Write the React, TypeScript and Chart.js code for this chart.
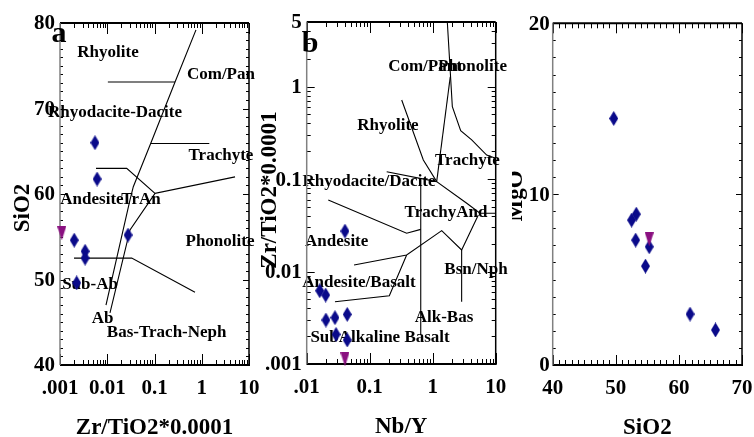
import React, { useEffect, useRef } from "react";
import { Chart, registerables } from "chart.js";
Chart.register(...registerables);

const FONT = '"Liberation Serif", "Times New Roman", serif';

// ---------------- Panel a : Zr/TiO2*0.0001 vs SiO2 ----------------
const aXTickValues = [0.001, 0.01, 0.1, 1, 10];
const aXTickLabels = [".001", "0.01", "0.1", "1", "10"];
const aYTickValues = [40, 50, 60, 70, 80];
const aYTickLabels = ["40", "50", "60", "70", "80"];
const aSampleZrTi = [0.0055, 0.0061, 0.0275, 0.002, 0.0034, 0.0034, 0.00225];
const aSampleSiO2 = [66.0, 61.75, 55.2, 54.6, 53.3, 52.5, 49.6];
const aRefZrTi = [0.00109];
const aRefSiO2 = [55.4];
const aFieldLines: number[][][] = [
  [[0.755, 79.2], [0.272, 73.1], [0.083, 65.9], [0.0356, 60.85], [0.0303, 59.3], [0.0094, 47.0]],
  [[0.0103, 73.1], [0.272, 73.1]],
  [[0.083, 65.9], [1.445, 65.9]],
  [[0.00578, 63.0], [0.0258, 63.0], [0.1026, 60.08], [5.06, 62.0]],
  [[0.1026, 60.08], [0.0303, 55.8], [0.01143, 46.1]],
  [[0.00198, 52.5], [0.0329, 52.5], [0.72, 48.5]],
];
const aFieldNames = ["Rhyolite", "Com/Pan", "Rhyodacite-Dacite", "Trachyte", "Andesite", "TrAn", "Phonolite", "Sub-Ab", "Ab", "Bas-Trach-Neph"];
const aFieldX = [0.01038, 2.55, 0.01459, 2.55, 0.00475, 0.0518, 2.43, 0.00432, 0.00794, 0.181];
const aFieldY = [76.5, 74.0, 69.5, 64.5, 59.3, 59.3, 54.4, 49.36, 45.46, 43.78];

// ---------------- Panel b : Nb/Y vs Zr/TiO2*0.0001 ----------------
const bXTickValues = [0.01, 0.1, 1, 10];
const bXTickLabels = [".01", "0.1", "1", "10"];
const bYTickValues = [0.001, 0.01, 0.1, 1, 5];
const bYTickLabels = [".001", "0.01", "0.1", "1", "5"];
const bSampleNbY = [0.0405, 0.0161, 0.02, 0.0202, 0.0281, 0.044, 0.0292, 0.044];
const bSampleZrTi = [0.0274, 0.0062, 0.00557, 0.00299, 0.00317, 0.00344, 0.00209, 0.00182];
const bRefNbY = [0.0405];
const bRefZrTi = [0.00112];
const bFieldLines: number[][][] = [
  [[1.706, 5], [1.88, 1.64], [2.05, 0.607], [2.78, 0.333], [4.16, 0.265], [7.19, 0.182], [10, 0.168]],
  [[1.9, 1.28], [1.157, 0.0938]],
  [[0.322, 0.716], [0.71, 0.161], [1.157, 0.0938], [3.47, 0.0547], [5.63, 0.0427], [10, 0.0427]],
  [[0.186, 0.12], [1.157, 0.0938]],
  [[0.646, 0.0863], [0.646, 0.00206]],
  [[0.022, 0.0594], [0.386, 0.026], [0.646, 0.0286]],
  [[0.0564, 0.01178], [0.386, 0.0151], [1.39, 0.0277], [2.88, 0.0171], [5.3, 0.0409]],
  [[2.88, 0.0171], [2.88, 0.00472]],
  [[0.0281, 0.00472], [0.205, 0.00548], [0.386, 0.0151]],
];
const bFieldNames = ["Com/Pant", "Phonolite", "Rhyolite", "Trachyte", "Rhyodacite/Dacite", "TrachyAnd", "Andesite", "Bsn/Nph", "Andesite/Basalt", "Alk-Bas", "SubAlkaline Basalt"];
const bFieldX = [0.755, 4.28, 0.195, 3.56, 0.0975, 1.625, 0.0299, 4.86, 0.0676, 1.51, 0.146];
const bFieldY = [1.64, 1.64, 0.375, 0.157, 0.0938, 0.0433, 0.021, 0.01057, 0.00757, 0.00317, 0.00192];

// ---------------- Panel c : SiO2 vs MgO ----------------
const cXTickValues = [40, 50, 60, 70];
const cXTickLabels = ["40", "50", "60", "70"];
const cYTickValues = [0, 10, 20];
const cYTickLabels = ["0", "10", "20"];
const cSampleSiO2 = [49.67, 52.5, 53.25, 53.15, 55.3, 54.7, 61.76, 65.8];
const cSampleMgO = [14.43, 8.48, 8.83, 7.31, 6.92, 5.79, 2.98, 2.05];
const cRefSiO2 = [55.3];
const cRefMgO = [7.35];

const DIAMOND = "#0a0a8a";
const TRIANGLE = "#8a1080";

function makeDiamond() {
  const c = document.createElement("canvas");
  c.width = 9; c.height = 15;
  const g = c.getContext("2d")!;
  g.fillStyle = DIAMOND;
  g.beginPath();
  g.moveTo(4.5, 0); g.lineTo(9, 7.5); g.lineTo(4.5, 15); g.lineTo(0, 7.5); g.closePath();
  g.fill();
  return c;
}
function makeTriangle() {
  const c = document.createElement("canvas");
  c.width = 9; c.height = 14;
  const g = c.getContext("2d")!;
  g.fillStyle = TRIANGLE;
  g.beginPath();
  g.moveTo(0, 0); g.lineTo(9, 0); g.lineTo(4.5, 14); g.closePath();
  g.fill();
  return c;
}

function tickPositions(type: string, min: number, max: number) {
  const out: number[] = [];
  if (type === "logarithmic") {
    for (let d = Math.floor(Math.log10(min)); d <= Math.ceil(Math.log10(max)); d++) {
      for (let k = 1; k <= 9; k++) {
        const v = k * Math.pow(10, d);
        if (v >= min * 0.9999 && v <= max * 1.0001) out.push(v);
      }
    }
  } else {
    for (let v = min; v <= max + 1e-9; v += 1) out.push(v);
  }
  return out;
}

type PanelCfg = {
  xType: string; yType: string;
  xMin: number; xMax: number; yMin: number; yMax: number;
  xTicks: number[]; xLabels: string[]; yTicks: number[]; yLabels: string[];
  xTitle: string; yTitle: string; yTitleCY: number;
  names: string[]; fx: number[]; fy: number[];
  letter?: string; letterDX?: number; letterDY?: number;
  yLabelGap: number;
  xMinorLen: number; xMajorLen: number; yMinorLen: number; yMajorLen: number;
};

function framePlugin(cfg: PanelCfg) {
  return {
    id: "frame",
    beforeDatasetsDraw(chart: any) {
      const { ctx, chartArea: ca, scales } = chart;
      const xs = scales.x, ys = scales.y;
      ctx.save();
      ctx.fillStyle = "#000";
      // field labels
      ctx.font = `bold 17px ${FONT}`;
      ctx.textAlign = "center";
      ctx.textBaseline = "middle";
      cfg.names.forEach((n, i) => {
        ctx.fillText(n, xs.getPixelForValue(cfg.fx[i]), ys.getPixelForValue(cfg.fy[i]));
      });
      // ticks
      ctx.strokeStyle = "#000";
      ctx.lineWidth = 1;
      const xt = tickPositions(cfg.xType, cfg.xMin, cfg.xMax);
      xt.forEach((v) => {
        const major = cfg.xTicks.some((t) => Math.abs(t - v) < 1e-9 * Math.max(1, Math.abs(t)));
        const len = major ? cfg.xMajorLen : cfg.xMinorLen;
        const px = Math.round(xs.getPixelForValue(v)) + 0.5;
        ctx.beginPath();
        ctx.moveTo(px, ca.bottom); ctx.lineTo(px, ca.bottom - len);
        ctx.moveTo(px, ca.top); ctx.lineTo(px, ca.top + len);
        ctx.stroke();
      });
      const yt = tickPositions(cfg.yType, cfg.yMin, cfg.yMax);
      yt.forEach((v) => {
        const major = cfg.yTicks.some((t) => Math.abs(t - v) < 1e-9 * Math.max(1, Math.abs(t)));
        const len = major ? cfg.yMajorLen : cfg.yMinorLen;
        const py = Math.round(ys.getPixelForValue(v)) + 0.5;
        ctx.beginPath();
        ctx.moveTo(ca.left, py); ctx.lineTo(ca.left + len, py);
        ctx.moveTo(ca.right, py); ctx.lineTo(ca.right - len, py);
        ctx.stroke();
      });
      // frame
      ctx.lineWidth = 2;
      ctx.strokeStyle = "#000";
      ctx.beginPath();
      ctx.moveTo(ca.left, ca.top); ctx.lineTo(ca.right, ca.top);
      ctx.moveTo(ca.left, ca.bottom); ctx.lineTo(ca.right + 1, ca.bottom);
      ctx.stroke();
      ctx.lineWidth = 1.5;
      ctx.beginPath();
      ctx.moveTo(ca.right, ca.top); ctx.lineTo(ca.right, ca.bottom);
      ctx.stroke();
      ctx.strokeStyle = "#808080";
      ctx.beginPath();
      ctx.moveTo(ca.left, ca.top); ctx.lineTo(ca.left, ca.bottom);
      ctx.stroke();
      // tick labels
      ctx.fillStyle = "#000";
      ctx.font = `bold 21px ${FONT}`;
      ctx.textAlign = "center";
      ctx.textBaseline = "middle";
      cfg.xTicks.forEach((v, i) => {
        ctx.fillText(cfg.xLabels[i], xs.getPixelForValue(v), ca.bottom + 23.5);
      });
      ctx.textAlign = "right";
      cfg.yTicks.forEach((v, i) => {
        ctx.fillText(cfg.yLabels[i], ca.left - cfg.yLabelGap, ys.getPixelForValue(v) + 1);
      });
      // titles
      ctx.font = `bold 23px ${FONT}`;
      ctx.textAlign = "center";
      ctx.textBaseline = "alphabetic";
      ctx.fillText(cfg.xTitle, (ca.left + ca.right) / 2, ca.bottom + 69);
      ctx.save();
      ctx.translate(ca.left - 31, cfg.yTitleCY);
      ctx.rotate(-Math.PI / 2);
      ctx.fillText(cfg.yTitle, 0, 0);
      ctx.restore();
      if (cfg.letter) {
        ctx.font = `bold 30px ${FONT}`;
        ctx.textAlign = "left";
        ctx.fillText(cfg.letter, ca.left + (cfg.letterDX || 0), ca.top + (cfg.letterDY || 0));
      }
      ctx.restore();
    },
  };
}

function buildChart(canvas: HTMLCanvasElement, cfg: PanelCfg, padding: any, lines: number[][][],
  sx: number[], sy: number[], rx: number[], ry: number[]) {
  const diamond = makeDiamond();
  const tri = makeTriangle();
  const datasets: any[] = [
    {
      data: rx.map((x, i) => ({ x, y: ry[i] })),
      showLine: false, pointStyle: tri, pointRadius: 5, clip: false, order: 0,
    },
    {
      data: sx.map((x, i) => ({ x, y: sy[i] })),
      showLine: false, pointStyle: diamond, pointRadius: 5, clip: false, order: 1,
    },
    ...lines.map((pts) => ({
      data: pts.map(([x, y]) => ({ x, y })),
      showLine: true, borderColor: "#000", borderWidth: 1.1, pointRadius: 0, tension: 0, fill: false, order: 2,
    })),
  ];
  return new Chart(canvas, {
    type: "scatter",
    data: { datasets },
    options: {
      animation: false,
      responsive: false,
      events: [],
      layout: { padding },
      plugins: { legend: { display: false }, tooltip: { enabled: false } },
      scales: {
        x: { type: cfg.xType as any, min: cfg.xMin, max: cfg.xMax, display: false },
        y: { type: cfg.yType as any, min: cfg.yMin, max: cfg.yMax, display: false },
      },
    },
    plugins: [framePlugin(cfg)],
  } as any);
}

export default function App() {
  const ra = useRef<HTMLCanvasElement>(null);
  const rb = useRef<HTMLCanvasElement>(null);
  const rc = useRef<HTMLCanvasElement>(null);

  useEffect(() => {
    const ca = buildChart(ra.current!, {
      xType: "logarithmic", yType: "linear", xMin: 0.001, xMax: 10, yMin: 40, yMax: 80,
      xTicks: aXTickValues, xLabels: aXTickLabels, yTicks: aYTickValues, yLabels: aYTickLabels,
      xTitle: "Zr/TiO2*0.0001", yTitle: "SiO2", yTitleCY: 208,
      names: aFieldNames, fx: aFieldX, fy: aFieldY,
      letter: "a", letterDX: -8.5, letterDY: 18.5, yLabelGap: 5,
      xMinorLen: 5, xMajorLen: 11, yMinorLen: 3, yMajorLen: 6,
    }, { left: 60, right: 21, top: 23, bottom: 72 }, aFieldLines, aSampleZrTi, aSampleSiO2, aRefZrTi, aRefSiO2);

    const cb = buildChart(rb.current!, {
      xType: "logarithmic", yType: "logarithmic", xMin: 0.01, xMax: 10, yMin: 0.001, yMax: 5,
      xTicks: bXTickValues, xLabels: bXTickLabels, yTicks: bYTickValues, yLabels: bYTickLabels,
      xTitle: "Nb/Y", yTitle: "Zr/TiO2*0.0001", yTitleCY: 190,
      names: bFieldNames, fx: bFieldX, fy: bFieldY,
      letter: "b", letterDX: -5, letterDY: 29.5, yLabelGap: 5,
      xMinorLen: 5, xMajorLen: 11, yMinorLen: 4, yMajorLen: 8,
    }, { left: 50.7, right: 16.3, top: 22, bottom: 73 }, bFieldLines, bSampleNbY, bSampleZrTi, bRefNbY, bRefZrTi);

    const cc = buildChart(rc.current!, {
      xType: "linear", yType: "linear", xMin: 40, xMax: 70, yMin: 0, yMax: 20,
      xTicks: cXTickValues, xLabels: cXTickLabels, yTicks: cYTickValues, yLabels: cYTickLabels,
      xTitle: "SiO2", yTitle: "MgO", yTitleCY: 196,
      names: [], fx: [], fy: [], yLabelGap: 3,
      xMinorLen: 5, xMajorLen: 10, yMinorLen: 3, yMajorLen: 6,
    }, { left: 40.7, right: 12, top: 23.3, bottom: 72 }, [], cSampleSiO2, cSampleMgO, cRefSiO2, cRefMgO);

    return () => { ca.destroy(); cb.destroy(); cc.destroy(); };
  }, []);

  return (
    <div style={{ position: "fixed", left: 0, top: 0, width: 754, height: 437, background: "#fff", overflow: "hidden" }}>
      <canvas ref={ra} width={270} height={437} style={{ position: "absolute", left: 0, top: 0, width: 270, height: 437 }} />
      <canvas ref={rb} width={256} height={437} style={{ position: "absolute", left: 256, top: 0, width: 256, height: 437 }} />
      <canvas ref={rc} width={242} height={437} style={{ position: "absolute", left: 512, top: 0, width: 242, height: 437 }} />
    </div>
  );
}
